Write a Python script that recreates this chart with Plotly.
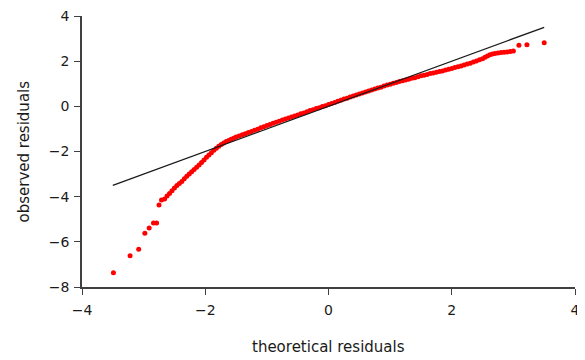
import plotly.graph_objects as go

# Observed vs theoretical residuals
theoretical = [
    -3.49, -3.22, -3.08, -2.98, -2.91, -2.84, -2.79, -2.75, -2.71, -2.66,
    -2.62, -2.58, -2.54, -2.50, -2.46, -2.42, -2.38, -2.34, -2.30, -2.26,
    -2.22, -2.18, -2.14, -2.10, -2.06, -2.02, -1.98, -1.94, -1.90, -1.86,
    -1.82, -1.78, -1.74, -1.70, -1.66, -1.62, -1.58, -1.54, -1.50, -1.45,
    -1.40, -1.35, -1.30, -1.25, -1.20, -1.15, -1.10, -1.05, -1.00, -0.95,
    -0.90, -0.85, -0.80, -0.75, -0.70, -0.65, -0.60, -0.55, -0.50, -0.45,
    -0.40, -0.35, -0.30, -0.25, -0.20, -0.15, -0.10, -0.05, 0.00, 0.05,
    0.10, 0.15, 0.20, 0.25, 0.30, 0.35, 0.40, 0.45, 0.50, 0.55,
    0.60, 0.65, 0.70, 0.75, 0.80, 0.85, 0.90, 0.95, 1.00, 1.05,
    1.10, 1.15, 1.20, 1.25, 1.30, 1.35, 1.40, 1.45, 1.50, 1.55,
    1.60, 1.65, 1.70, 1.75, 1.80, 1.85, 1.90, 1.95, 2.00, 2.05,
    2.10, 2.15, 2.20, 2.25, 2.30, 2.35, 2.40, 2.45, 2.50, 2.54,
    2.58, 2.62, 2.66, 2.70, 2.75, 2.80, 2.85, 2.90, 2.95, 3.00,
    3.09, 3.22, 3.50,
]
observed = [
    -7.37, -6.62, -6.33, -5.62, -5.39, -5.17, -5.17, -4.37, -4.15, -4.10,
    -3.97, -3.86, -3.74, -3.62, -3.51, -3.42, -3.33, -3.21, -3.10, -3.00,
    -2.90, -2.80, -2.70, -2.60, -2.49, -2.38, -2.26, -2.15, -2.05, -1.95,
    -1.86, -1.77, -1.69, -1.62, -1.56, -1.51, -1.46, -1.41, -1.36, -1.31,
    -1.26, -1.21, -1.16, -1.11, -1.06, -1.01, -0.95, -0.90, -0.85, -0.80,
    -0.75, -0.71, -0.66, -0.61, -0.56, -0.52, -0.47, -0.43, -0.38, -0.33,
    -0.29, -0.24, -0.19, -0.15, -0.10, -0.06, -0.01, 0.03, 0.08, 0.13,
    0.17, 0.22, 0.27, 0.32, 0.36, 0.41, 0.46, 0.50, 0.55, 0.59,
    0.64, 0.68, 0.72, 0.77, 0.81, 0.85, 0.90, 0.94, 0.98, 1.02,
    1.06, 1.10, 1.13, 1.17, 1.20, 1.24, 1.27, 1.31, 1.35, 1.38,
    1.41, 1.45, 1.48, 1.51, 1.54, 1.57, 1.61, 1.64, 1.68, 1.72,
    1.75, 1.79, 1.83, 1.87, 1.91, 1.96, 2.01, 2.06, 2.11, 2.17,
    2.23, 2.28, 2.32, 2.34, 2.36, 2.38, 2.40, 2.41, 2.43, 2.45,
    2.70, 2.73, 2.81,
]

# Reference line endpoints
ref_x = [-3.5, 3.5]
ref_y = [-3.5, 3.5]

x_ticks = [-4, -2, 0, 2, 4]
y_ticks = [-8, -6, -4, -2, 0, 2, 4]

x_title = "theoretical residuals"
y_title = "observed residuals"

FONT = "DejaVu Sans"
TXT = "#1a1a1a"

fig = go.Figure()
fig.add_trace(go.Scatter(
    x=theoretical, y=observed, mode="markers",
    marker=dict(color="#ff0000", size=5, line=dict(width=0)),
    showlegend=False, hoverinfo="skip",
))
fig.add_trace(go.Scatter(
    x=ref_x, y=ref_y, mode="lines",
    line=dict(color="#1a1a1a", width=1.3),
    showlegend=False, hoverinfo="skip",
))

axis_common = dict(
    showgrid=False, zeroline=False, showline=True, automargin=False,
    linecolor="#404040", linewidth=1.5,
    ticks="outside", ticklen=6, tickwidth=1.2, tickcolor="#404040",
    tickfont=dict(family=FONT, size=14, color=TXT),
    ticklabeloverflow="allow",
)

# The page body adds an 8px offset, so the figure is sized to fit the window.
fig.update_layout(
    width=577, height=352,
    margin=dict(l=74, r=10, t=8, b=73),
    paper_bgcolor="white", plot_bgcolor="white",
    xaxis=dict(range=[-4, 4], tickvals=x_ticks, ticklabelstandoff=3, **axis_common),
    yaxis=dict(range=[-8, 4], tickvals=y_ticks, ticklabelstandoff=2, **axis_common),
    annotations=[
        dict(text=x_title, xref="paper", yref="paper", x=0.5, y=0,
             xanchor="center", yanchor="middle", yshift=-60, showarrow=False,
             font=dict(family=FONT, size=15, color=TXT)),
        dict(text=y_title, xref="paper", yref="paper", x=0, y=0.5,
             xanchor="center", yanchor="middle", xshift=-59, textangle=-90,
             showarrow=False, font=dict(family=FONT, size=15, color=TXT)),
    ],
)

fig.write_html("out.html")
